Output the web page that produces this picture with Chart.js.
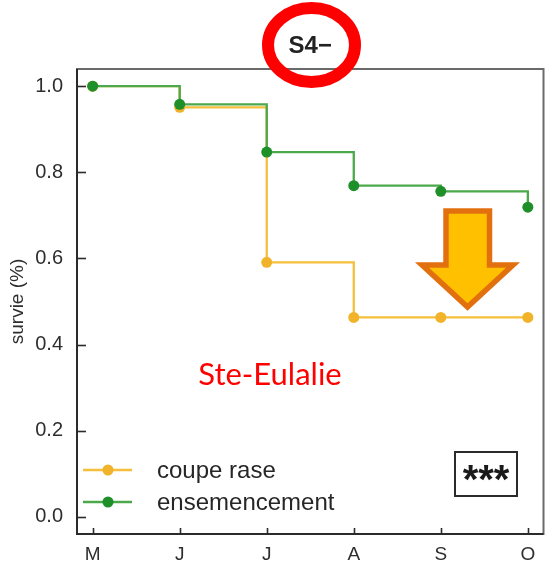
<!DOCTYPE html>
<html>
<head>
<meta charset="utf-8">
<script src="https://cdn.jsdelivr.net/npm/chart.js@4/dist/chart.umd.min.js"></script>
<style>
  html, body { margin: 0; padding: 0; background: #fff; }
  canvas { display: block; }
</style>
</head>
<body>
<canvas id="c" width="549" height="563"></canvas>
<script>
// Survival by month, Ste-Eulalie site (S4-)
const months = ['M', 'J', 'J', 'A', 'S', 'O'];
const coupeRase = [1.0, 0.951, 0.591, 0.463, 0.463, 0.463];
const ensemencement = [1.0, 0.958, 0.847, 0.769, 0.756, 0.719];
const yTicks = [0, 0.2, 0.4, 0.6, 0.8, 1.0];
const seriesNames = ['coupe rase', 'ensemencement'];
const siteName = 'Ste-Eulalie';
const plotTitle = 'S4−';
const signif = '***';

const YELLOW_LINE = '#F5BF3C', YELLOW_PT = '#F0B32A';
const GREEN_LINE = '#4BA84B', GREEN_PT = '#1F8F2A';

const toXY = arr => arr.map((v, i) => ({ x: i, y: v }));

// axis frame, inward tick marks, legend and annotations
const decor = {
  id: 'decor',
  beforeDatasetsDraw(chart) {
    const { ctx, chartArea: a, scales: { x, y } } = chart;
    ctx.save();
    ctx.strokeStyle = '#6a6a6a';
    ctx.lineWidth = 2;
    ctx.strokeRect(a.left, a.top, a.right - a.left, a.bottom - a.top);
    ctx.strokeStyle = '#2b2b2b';
    ctx.beginPath();
    ctx.moveTo(a.left, a.top); ctx.lineTo(a.left, a.bottom); ctx.lineTo(a.right, a.bottom);
    ctx.stroke();
    ctx.lineWidth = 1.6;
    yTicks.forEach(v => {
      const py = Math.round(y.getPixelForValue(v)) + 0.5;
      ctx.beginPath(); ctx.moveTo(a.left, py); ctx.lineTo(a.left + 9, py); ctx.stroke();
    });
    months.forEach((_, i) => {
      const px = Math.round(x.getPixelForValue(i)) + 0.5;
      ctx.beginPath(); ctx.moveTo(px, a.bottom); ctx.lineTo(px, a.bottom - 6); ctx.stroke();
    });
    ctx.restore();
  },
  afterDraw(chart) {
    const { ctx, chartArea: a } = chart;
    ctx.save();

    // title, centred over the plot area
    ctx.fillStyle = '#222';
    ctx.font = 'bold 24px "Liberation Sans", Arial, sans-serif';
    ctx.textAlign = 'center';
    ctx.textBaseline = 'middle';
    ctx.fillText(plotTitle, (a.left + a.right) / 2, 46);

    // legend
    const ds = chart.data.datasets;
    const rows = [470, 502];
    ds.forEach((d, i) => {
      const ly = rows[i];
      ctx.strokeStyle = d.borderColor;
      ctx.lineWidth = 2.5;
      ctx.beginPath(); ctx.moveTo(83, ly); ctx.lineTo(132, ly); ctx.stroke();
      ctx.fillStyle = d.pointBackgroundColor;
      ctx.beginPath(); ctx.arc(108, ly, 5.5, 0, Math.PI * 2); ctx.fill();
      ctx.fillStyle = '#262626';
      ctx.font = '24px "Liberation Sans", Arial, sans-serif';
      ctx.textAlign = 'left';
      ctx.textBaseline = 'middle';
      ctx.fillText(d.label, 157, ly + 1);
    });

    // significance box
    ctx.strokeStyle = '#2b2b2b';
    ctx.lineWidth = 2;
    ctx.strokeRect(455, 452, 62, 44);
    ctx.fillStyle = '#1a1a1a';
    ctx.font = 'bold 40px "Liberation Sans", Arial, sans-serif';
    ctx.textAlign = 'center';
    ctx.textBaseline = 'alphabetic';
    ctx.fillText(signif, 486, 493);

    // site name
    ctx.fillStyle = '#FF0000';
    ctx.font = '31px Lato, "Liberation Sans", sans-serif';
    ctx.textAlign = 'center';
    ctx.fillText(siteName, 270, 385);

    // down arrow
    ctx.beginPath();
    ctx.moveTo(446, 211);
    ctx.lineTo(489.5, 211);
    ctx.lineTo(489.5, 265);
    ctx.lineTo(513, 265);
    ctx.lineTo(467.5, 307);
    ctx.lineTo(422, 265);
    ctx.lineTo(446, 265);
    ctx.closePath();
    ctx.fillStyle = '#FFC000';
    ctx.fill();
    ctx.strokeStyle = '#E3700F';
    ctx.lineWidth = 5.5;
    ctx.lineJoin = 'miter';
    ctx.stroke();

    // ring around the title
    ctx.beginPath();
    ctx.ellipse(311.5, 45, 43.5, 37, 0, 0, Math.PI * 2);
    ctx.strokeStyle = '#FF0000';
    ctx.lineWidth = 12;
    ctx.stroke();
    ctx.restore();
  }
};

new Chart(document.getElementById('c'), {
  type: 'line',
  data: {
    datasets: [
      {
        label: seriesNames[0],
        data: toXY(coupeRase),
        borderColor: YELLOW_LINE,
        backgroundColor: YELLOW_PT,
        pointBackgroundColor: YELLOW_PT,
        pointBorderWidth: 0,
        pointRadius: 5.5,
        borderWidth: 2.3,
        stepped: 'before',
        order: 1
      },
      {
        label: seriesNames[1],
        data: toXY(ensemencement),
        borderColor: GREEN_LINE,
        backgroundColor: GREEN_PT,
        pointBackgroundColor: GREEN_PT,
        pointBorderWidth: 0,
        pointRadius: 5.5,
        borderWidth: 2.3,
        stepped: 'before',
        order: 0
      }
    ]
  },
  options: {
    responsive: false,
    animation: false,
    devicePixelRatio: 1,
    layout: { padding: { left: 0, right: 2, top: 69, bottom: 0 } },
    plugins: {
      legend: { display: false },
      tooltip: { enabled: false },
      title: { display: false }
    },
    scales: {
      x: {
        type: 'linear',
        min: -0.18,
        max: 5.18,
        grid: { display: false, drawTicks: false },
        border: { display: false },
        afterBuildTicks: s => { s.ticks = months.map((_, i) => ({ value: i })); },
        afterFit: s => { s.height = 29; },
        ticks: {
          autoSkip: false,
          maxRotation: 0,
          padding: 9,
          color: '#2e2e2e',
          font: { family: '"Liberation Sans", Arial, sans-serif', size: 19 },
          callback: v => months[v]
        }
      },
      y: {
        type: 'linear',
        min: -0.04,
        max: 1.04,
        grid: { display: false, drawTicks: false },
        border: { display: false },
        afterBuildTicks: s => { s.ticks = yTicks.map(v => ({ value: v })); },
        afterFit: s => { s.width = 77; },
        title: {
          display: true,
          text: 'survie (%)',
          color: '#2e2e2e',
          font: { family: '"Liberation Sans", Arial, sans-serif', size: 19 },
          padding: { top: 6, bottom: 0 }
        },
        ticks: {
          padding: 14,
          color: '#2e2e2e',
          font: { family: '"Liberation Sans", Arial, sans-serif', size: 20 },
          callback: v => v.toFixed(1)
        }
      }
    }
  },
  plugins: [decor]
});
</script>
</body>
</html>
